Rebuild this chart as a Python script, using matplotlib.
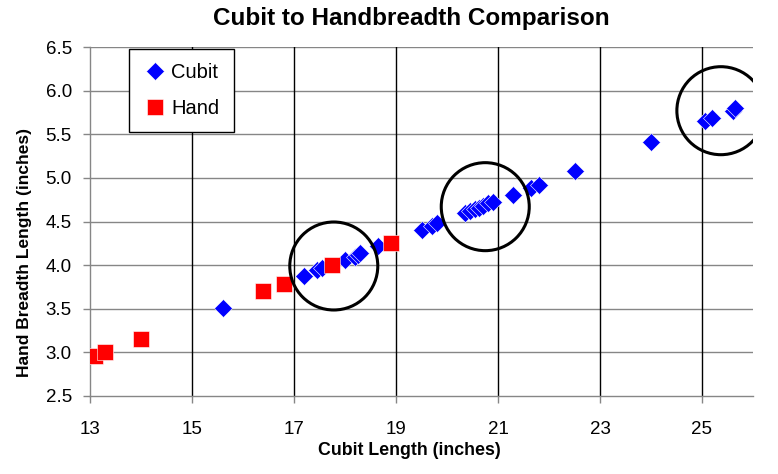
import matplotlib
matplotlib.use("Agg")
import matplotlib.pyplot as plt
from matplotlib.patches import Ellipse

# data
cubit_x = [15.6, 17.2, 17.45, 17.55, 18.0, 18.2, 18.25, 18.3, 18.65, 19.5, 19.7, 19.8,
           20.35, 20.45, 20.55, 20.62, 20.7, 20.8, 20.9, 21.3, 21.65, 21.8, 22.5, 24.0,
           25.05, 25.2, 25.6, 25.65]
cubit_y = [3.51, 3.88, 3.94, 3.97, 4.06, 4.09, 4.12, 4.14, 4.22, 4.40, 4.45, 4.48,
           4.60, 4.62, 4.64, 4.66, 4.68, 4.71, 4.72, 4.80, 4.88, 4.92, 5.08, 5.41,
           5.65, 5.69, 5.77, 5.80]
hand_x = [13.1, 13.3, 14.0, 16.4, 16.8, 17.75, 18.9]
hand_y = [2.96, 3.0, 3.15, 3.70, 3.78, 4.0, 4.25]

# circled groups
highlight_x = [17.78, 20.75, 25.37]
highlight_y = [3.99, 4.67, 5.77]

x_ticks = [13, 15, 17, 19, 21, 23, 25]
y_ticks = [2.5, 3.0, 3.5, 4.0, 4.5, 5.0, 5.5, 6.0, 6.5]

plt.rcParams['font.family'] = ['Liberation Sans', 'DejaVu Sans']

fig = plt.figure(figsize=(7.78, 4.74), dpi=100)
ax = fig.add_axes([90/778, 1 - 396/474, 663/778, 349/474])

ax.plot(cubit_x, cubit_y, 'D', color='#0000ff', markersize=9,
        markeredgecolor='white', markeredgewidth=0.4, label='Cubit', zorder=3)
ax.plot(hand_x, hand_y, 's', color='#ff0000', markersize=11,
        markeredgecolor='white', markeredgewidth=0.4, label='Hand', zorder=4)

for cx, cy in zip(highlight_x, highlight_y):
    ax.add_patch(Ellipse((cx, cy), width=88/51, height=88/87.25, fill=False,
                         edgecolor='black', linewidth=2.2, zorder=5))

ax.set_xlim(13, 26)
ax.set_ylim(2.5, 6.5)
ax.set_xticks(x_ticks)
ax.set_yticks(y_ticks)
ax.set_yticklabels([f"{v:.1f}" for v in y_ticks])
ax.tick_params(axis='both', colors='#868686', labelcolor='black', labelsize=13.5,
               length=5, width=1, direction='out')
ax.tick_params(axis='x', pad=13)
ax.tick_params(axis='y', pad=8)

# gridlines: gray horizontal, black vertical
for v in y_ticks[1:]:
    ax.axhline(v, color='#868686', linewidth=1, zorder=1)
for v in x_ticks[1:]:
    ax.axvline(v, color='black', linewidth=1, zorder=1)

for s in ['top', 'right']:
    ax.spines[s].set_visible(False)
for s in ['left', 'bottom']:
    ax.spines[s].set_color('#868686')
    ax.spines[s].set_linewidth(1)

ax.set_title('Cubit to Handbreadth Comparison', fontsize=17.5, fontweight='bold',
             pad=16, x=0.485)
ax.set_xlabel('Cubit Length (inches)', fontsize=12.8, fontweight='bold')
ax.set_ylabel('Hand Breadth Length (inches)', fontsize=12.5, fontweight='bold')
ax.xaxis.set_label_coords(0.481, -0.132)
ax.yaxis.set_label_coords(-0.088, 0.41)

leg = ax.legend(loc='upper left', bbox_to_anchor=(0.059, 0.994), fontsize=14.5,
                frameon=True, fancybox=False, edgecolor='black', framealpha=1,
                labelspacing=0.85, borderpad=0.7, handletextpad=0.2, handlelength=1.2,
                borderaxespad=0)
leg.get_frame().set_linewidth(1)

fig.savefig('out.png', dpi=100)
